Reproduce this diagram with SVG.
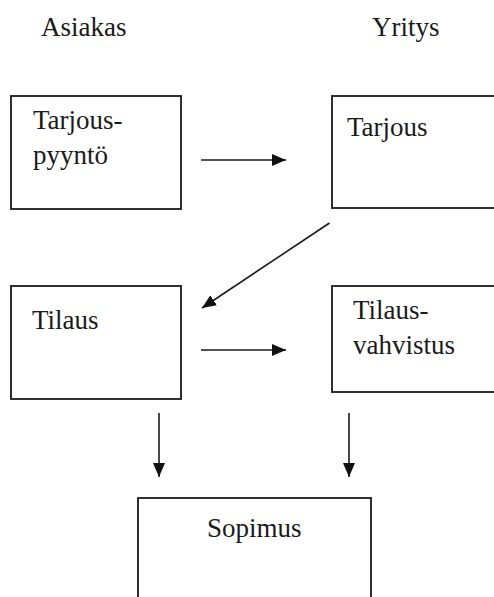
<svg xmlns="http://www.w3.org/2000/svg" width="494" height="597" viewBox="0 0 494 597" font-family="Liberation Serif, Times New Roman, DejaVu Serif, serif">
  <style>
    .box { fill: #ffffff; stroke: #1a1a1a; stroke-width: 1.8; }
    text { font-family: "Liberation Serif", "Times New Roman", "DejaVu Serif", serif; font-size: 27px; fill: #1a1a1a; }
    .link { stroke: #1a1a1a; stroke-width: 1.6; fill: none; marker-end: url(#head); }
  </style>
  <defs>
    <marker id="head" markerUnits="userSpaceOnUse" markerWidth="15" markerHeight="14" refX="14" refY="7" orient="auto">
      <path d="M0,1 L14,7 L0,13 Z" fill="#111111"/>
    </marker>
  </defs>
  <rect width="494" height="597" fill="#ffffff"/>

  <!-- column headings -->
  <g id="headings">
    <text x="41" y="36">Asiakas</text>
    <text x="372" y="36">Yritys</text>
  </g>

  <g id="tarjouspyynto">
    <rect class="box" x="11" y="96" width="170" height="113"/>
    <text x="33" y="129">Tarjous-</text>
    <text x="33" y="164">pyyntö</text>
  </g>

  <g id="tarjous">
    <rect class="box" x="332" y="96" width="180" height="112"/>
    <text x="347" y="136">Tarjous</text>
  </g>

  <g id="tilaus">
    <rect class="box" x="11" y="286" width="170" height="113"/>
    <text x="32" y="329">Tilaus</text>
  </g>

  <g id="tilausvahvistus">
    <rect class="box" x="332" y="286" width="180" height="106"/>
    <text x="353" y="319">Tilaus-</text>
    <text x="353" y="354">vahvistus</text>
  </g>

  <g id="sopimus">
    <rect class="box" x="138" y="498" width="233" height="120"/>
    <text x="207" y="537">Sopimus</text>
  </g>

  <g id="connectors">
    <line class="link" x1="201" y1="160" x2="286" y2="160"/>
    <line class="link" x1="329.5" y1="223" x2="202" y2="308"/>
    <line class="link" x1="201" y1="350" x2="286" y2="350"/>
    <line class="link" x1="159" y1="413" x2="159" y2="477"/>
    <line class="link" x1="349" y1="413" x2="349" y2="477"/>
  </g>
</svg>
